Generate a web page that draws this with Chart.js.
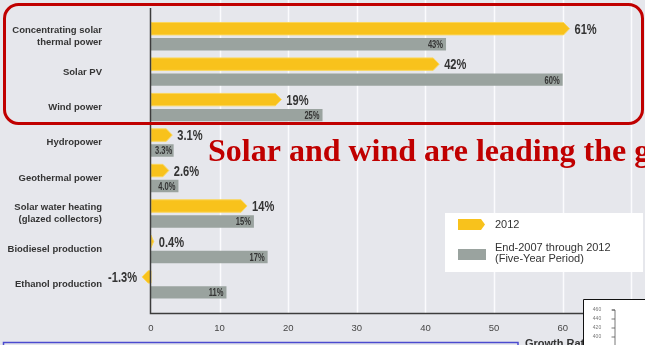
<!DOCTYPE html>
<html>
<head>
<meta charset="utf-8">
<script src="https://cdn.jsdelivr.net/npm/chart.js@4.4.1/dist/chart.umd.min.js"></script>
<style>
  html, body { margin: 0; padding: 0; background: #e6e7ec; }
  #wrap { position: relative; width: 645px; height: 345px; overflow: hidden; }
  canvas { display: block; }
</style>
</head>
<body>
<div id="wrap"><canvas id="growth" width="645" height="345"></canvas></div>
<script>
// Technology categories (multi-line where the label wraps)
const categories = [
  ['Concentrating solar', 'thermal power'],
  'Solar PV',
  'Wind power',
  'Hydropower',
  'Geothermal power',
  ['Solar water heating', '(glazed collectors)'],
  'Biodiesel production',
  'Ethanol production'
];

// Annual growth rate in 2012 (%)
const growth2012 = [61, 42, 19, 3.1, 2.6, 14, 0.4, -1.3];
// Average annual growth rate, end-2007 through 2012 (%)
const growthFiveYear = [43, 60, 25, 3.3, 4.0, 15, 17, 11];

// Growth-rate axis ticks (%)
const rateTicks = [0, 10, 20, 30, 40, 50, 60, 70];

const seriesNames = ['2012', ['End-2007 through 2012', '(Five-Year Period)']];

const YELLOW = '#f8c21c';
const GREY = '#9aa39f';
const INK = '#343434';
const RED = '#c00000';
const SANS = '"Liberation Sans", Arial, sans-serif';

const fmt = v => (Math.abs(v) < 10 ? v.toFixed(1) : String(Math.round(v))) + '%';

// Condensed bold text: a regular face squeezed horizontally
function narrowText(ctx, txt, x, y, size, align, squeeze) {
  ctx.save();
  ctx.font = 'bold ' + size + 'px ' + SANS;
  const w = ctx.measureText(txt).width * squeeze;
  let left = x;
  if (align === 'right') left = x - w;
  else if (align === 'center') left = x - w / 2;
  ctx.translate(left, y);
  ctx.scale(squeeze, 1);
  ctx.textAlign = 'left';
  ctx.textBaseline = 'middle';
  ctx.fillText(txt, 0, 0);
  ctx.restore();
  return w;
}

// Background and white vertical grid lines running the full height of the panel
const backdrop = {
  id: 'backdrop',
  beforeDraw(chart) {
    const { ctx, scales: { x } } = chart;
    ctx.save();
    ctx.fillStyle = '#e6e7ec';
    ctx.fillRect(0, 0, chart.width, chart.height);
    ctx.strokeStyle = '#fbfbfd';
    ctx.lineWidth = 1.5;
    rateTicks.forEach(t => {
      if (t === 0) return;
      const px = Math.round(x.getPixelForValue(t)) + 0.5;
      ctx.beginPath();
      ctx.moveTo(px, 0);
      ctx.lineTo(px, 313);
      ctx.stroke();
    });
    ctx.restore();
  }
};

// 2012 bars are drawn as arrow-tipped bars
const chevronBars = {
  id: 'chevronBars',
  beforeDatasetDraw(chart, args) {
    if (args.index !== 0) return;
    const ctx = chart.ctx;
    const ds = chart.data.datasets[0];
    ctx.save();
    ctx.fillStyle = ds.backgroundColor;
    ctx.strokeStyle = '#fbd65a';
    ctx.lineWidth = 1;
    ctx.lineJoin = 'round';
    args.meta.data.forEach(el => {
      const { x, y, base, height } = el.getProps(['x', 'y', 'base', 'height'], true);
      const dir = x >= base ? 1 : -1;
      const len = Math.abs(x - base);
      const tip = Math.min(6, len);
      const top = y - height / 2, bot = y + height / 2;
      ctx.beginPath();
      ctx.moveTo(base, top);
      ctx.lineTo(x - dir * tip, top);
      ctx.lineTo(x, y);
      ctx.lineTo(x - dir * tip, bot);
      ctx.lineTo(base, bot);
      ctx.closePath();
      ctx.fill();
      ctx.stroke();
    });
    ctx.restore();
    return false;
  }
};

// Axis lines, value labels, legend and slide annotations
const overlay = {
  id: 'overlay',
  afterDatasetsDraw(chart) {
    const { ctx, scales: { x } } = chart;
    const x0 = x.getPixelForValue(0);
    ctx.save();

    // axis lines
    ctx.strokeStyle = '#3c3c3c';
    ctx.lineWidth = 1.5;
    ctx.beginPath();
    ctx.moveTo(x0 - 0.5, 8);
    ctx.lineTo(x0 - 0.5, 313.5);
    ctx.lineTo(chart.width, 313.5);
    ctx.stroke();

    // value labels for 2012 (outside the arrow tip)
    const m0 = chart.getDatasetMeta(0);
    ctx.fillStyle = INK;
    m0.data.forEach((el, i) => {
      const v = growth2012[i];
      const { x: px, y } = el.getProps(['x', 'y'], true);
      if (v >= 0) narrowText(ctx, fmt(v), px + 5, y + 1, 15, 'left', 0.74);
      else narrowText(ctx, fmt(v), px - 5, y + 1, 15, 'right', 0.74);
    });

    // value labels for the five-year period (inside the bar end)
    const m1 = chart.getDatasetMeta(1);
    m1.data.forEach((el, i) => {
      const v = growthFiveYear[i];
      const { x: px, y, base } = el.getProps(['x', 'y', 'base'], true);
      const txt = fmt(v);
      ctx.font = 'bold 10.5px ' + SANS;
      const w = ctx.measureText(txt).width * 0.72;
      if (px - base > w + 8) narrowText(ctx, txt, px - 3, y + 1, 10.5, 'right', 0.72);
      else narrowText(ctx, txt, base + 4, y + 1, 10.5, 'left', 0.72);
    });

    // legend
    ctx.fillStyle = '#ffffff';
    ctx.fillRect(445, 213, 198, 59);
    const ds = chart.data.datasets;
    ctx.fillStyle = ds[0].backgroundColor;
    ctx.beginPath();
    ctx.moveTo(458, 219);
    ctx.lineTo(481, 219);
    ctx.lineTo(485, 224.5);
    ctx.lineTo(481, 230);
    ctx.lineTo(458, 230);
    ctx.closePath();
    ctx.fill();
    ctx.fillStyle = ds[1].backgroundColor;
    ctx.fillRect(458, 249, 28, 11);
    ctx.fillStyle = '#333333';
    ctx.font = '11px ' + SANS;
    ctx.textAlign = 'left';
    ctx.textBaseline = 'middle';
    ctx.fillText(ds[0].label, 495, 224.5);
    const l2 = seriesNames[1];
    ctx.fillText(l2[0], 495, 248);
    ctx.fillText(l2[1], 495, 259);

    // headline
    ctx.fillStyle = RED;
    ctx.font = 'bold 32px "Liberation Serif", "Times New Roman", serif';
    ctx.textBaseline = 'alphabetic';
    ctx.fillText('Solar and wind are leading the growth', 208, 161);

    // highlight frame around the solar and wind rows
    ctx.strokeStyle = RED;
    ctx.lineWidth = 3;
    ctx.beginPath();
    ctx.roundRect(4.5, 4.5, 638, 119, 14);
    ctx.stroke();

    // axis title
    ctx.fillStyle = '#333333';
    ctx.font = 'bold 11px ' + SANS;
    ctx.fillText('Growth Rate', 525, 347);

    // caption frame
    ctx.strokeStyle = '#4b4bcf';
    ctx.lineWidth = 1.5;
    ctx.beginPath();
    ctx.moveTo(3.5, 360);
    ctx.lineTo(3.5, 342.5);
    ctx.lineTo(518, 342.5);
    ctx.lineTo(518, 360);
    ctx.stroke();

    // inset chart panel
    ctx.fillStyle = '#ffffff';
    ctx.fillRect(583, 299, 70, 50);
    ctx.strokeStyle = '#111111';
    ctx.lineWidth = 1;
    ctx.beginPath();
    ctx.moveTo(583.5, 350);
    ctx.lineTo(583.5, 299.5);
    ctx.lineTo(650, 299.5);
    ctx.stroke();
    ctx.fillStyle = '#777777';
    ctx.font = '5px ' + SANS;
    ctx.textAlign = 'center';
    ctx.textBaseline = 'middle';
    ctx.strokeStyle = '#555555';
    ctx.lineWidth = 0.8;
    ctx.beginPath();
    ctx.moveTo(612, 310);
    ctx.lineTo(615, 310);
    ctx.lineTo(615, 350);
    ctx.stroke();
    ['460', '440', '420', '400'].forEach((t, i) => {
      const ty = 310 + i * 9;
      ctx.fillText(t, 597, ty);
      ctx.beginPath();
      ctx.moveTo(611.5, ty);
      ctx.lineTo(615, ty);
      ctx.stroke();
    });

    ctx.restore();
  }
};

new Chart(document.getElementById('growth'), {
  type: 'bar',
  data: {
    labels: categories,
    datasets: [
      {
        label: seriesNames[0],
        data: growth2012,
        backgroundColor: YELLOW,
        borderWidth: 0,
        categoryPercentage: 0.874,
        barPercentage: 0.8
      },
      {
        label: seriesNames[1].join(' '),
        data: growthFiveYear,
        backgroundColor: GREY,
        borderWidth: 0,
        categoryPercentage: 0.874,
        barPercentage: 0.8
      }
    ]
  },
  options: {
    indexAxis: 'y',
    responsive: false,
    animation: false,
    devicePixelRatio: 1,
    layout: { padding: { top: 18.7, right: 0, bottom: 0, left: 0 } },
    plugins: {
      legend: { display: false },
      tooltip: { enabled: false }
    },
    scales: {
      x: {
        type: 'linear',
        min: 0,
        max: 72,
        afterBuildTicks(scale) {
          scale.ticks = rateTicks.map(v => ({ value: v }));
        },
        afterFit(scale) {
          scale.height = 42.6;
          scale.paddingLeft = 0;
          scale.paddingRight = 0;
        },
        grid: { display: false, drawTicks: false },
        border: { display: false },
        ticks: {
          padding: 20,
          color: '#474747',
          font: { family: SANS, size: 9.5 },
          callback: v => String(v)
        }
      },
      y: {
        type: 'category',
        afterFit(scale) {
          scale.width = 151;
          scale.paddingTop = 0;
          scale.paddingBottom = 0;
        },
        grid: { display: false, drawTicks: false },
        border: { display: false },
        ticks: {
          padding: 49,
          color: INK,
          font: { family: SANS, size: 9.5, weight: 'bold', lineHeight: 1.25 }
        }
      }
    }
  },
  plugins: [backdrop, chevronBars, overlay]
});
</script>
</body>
</html>
